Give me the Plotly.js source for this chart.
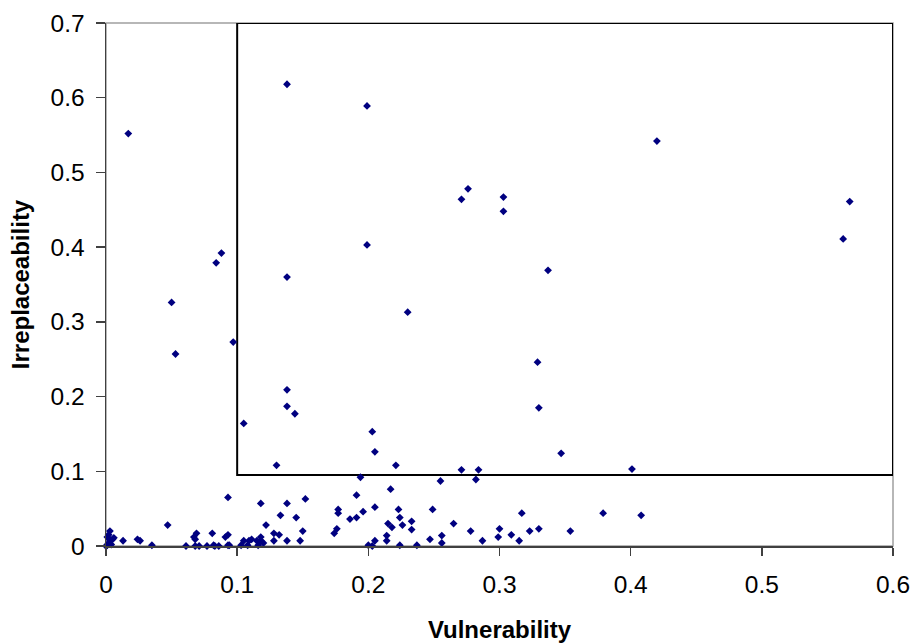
<!DOCTYPE html>
<html>
<head>
<meta charset="utf-8">
<script src="https://cdn.plot.ly/plotly-3.0.1.min.js"></script>
<style>html,body{margin:0;padding:0;background:#fff;}#chart{width:912px;height:643px;}</style>
</head>
<body>
<div id="chart"></div>
<script>
// Vulnerability (x) values
var vulnerability = [
0.017,0.138,0.199,0.088,0.084,0.199,0.138,0.050,0.097,0.053,
0.138,0.138,0.144,0.105,0.203,0.420,0.276,0.271,0.303,0.303,
0.337,0.230,0.329,0.330,0.347,0.567,0.562,0.401,0.379,0.408,
0.317,0.330,0.323,0.354,0.309,0.315,0.205,0.221,0.271,0.284,
0.194,0.282,0.255,0.152,0.191,0.217,0.177,0.177,0.196,0.205,
0.186,0.191,0.223,0.224,0.249,0.233,0.233,0.226,0.215,0.218,
0.214,0.214,0.205,0.200,0.203,0.224,0.237,0.247,0.256,0.256,
0.265,0.278,0.287,0.299,0.300,0.148,0.150,0.174,0.176,0.130,
0.093,0.118,0.138,0.133,0.145,0.047,0.003,0.122,0.069,0.081,
0.128,0.132,0.067,0.068,0.091,0.093,0.118,0.118,0.111,0.109,
0.105,0.115,0.116,0.103,0.108,0.120,0.093,0.094,0.128,0.138,
0.013,0.024,0.026,0.035,0.061,0.068,0.071,0.077,0.082,0.083,
0.086,0.005,0.001,0.002,0.000,0.003,0.001,0.004,0.006,0.002
];
// Irreplaceability (y) values
var irreplaceability = [
0.552,0.618,0.589,0.392,0.379,0.403,0.360,0.326,0.273,0.257,
0.209,0.187,0.177,0.164,0.153,0.542,0.478,0.464,0.467,0.448,
0.369,0.313,0.246,0.185,0.124,0.461,0.411,0.103,0.044,0.041,
0.044,0.023,0.020,0.020,0.015,0.007,0.126,0.108,0.102,0.102,
0.092,0.089,0.087,0.063,0.068,0.076,0.049,0.044,0.046,0.052,
0.036,0.038,0.049,0.038,0.049,0.033,0.022,0.028,0.030,0.025,
0.014,0.007,0.007,0.001,0.000,0.001,0.001,0.009,0.014,0.004,
0.030,0.020,0.007,0.012,0.023,0.007,0.020,0.017,0.023,0.108,
0.065,0.057,0.057,0.041,0.038,0.028,0.020,0.028,0.017,0.017,
0.017,0.015,0.012,0.009,0.012,0.015,0.012,0.007,0.009,0.007,
0.007,0.007,0.001,0.001,0.001,0.004,0.001,0.001,0.007,0.007,
0.007,0.009,0.007,0.001,0.000,0.000,0.000,0.000,0.001,0.000,
0.000,0.009,0.001,0.004,0.000,0.008,0.012,0.002,0.011,0.015
];
var xTickVals = [0,0.1,0.2,0.3,0.4,0.5,0.6];
var xTickText = ["0","0.1","0.2","0.3","0.4","0.5","0.6"];
var yTickVals = [0,0.1,0.2,0.3,0.4,0.5,0.6,0.7];
var yTickText = ["0","0.1","0.2","0.3","0.4","0.5","0.6","0.7"];
var boxX = [0.1, 0.6];
var boxY = [0.095, 0.7];

var trace = {
  x: vulnerability, y: irreplaceability,
  type: 'scatter', mode: 'markers', cliponaxis: false,
  marker: {symbol: 'diamond', size: 6, color: '#000080', line: {width: 0}},
  hoverinfo: 'x+y'
};

var font = {family: '"Liberation Sans", Arial, sans-serif', color: '#000'};
var layout = {
  width: 912, height: 643,
  margin: {l: 105.5, r: 18.7, t: 22.9, b: 97},
  paper_bgcolor: '#fff', plot_bgcolor: '#fff',
  showlegend: false,
  font: font,
  xaxis: {
    range: [0, 0.6], tickvals: xTickVals, ticktext: xTickText,
    showgrid: false, zeroline: false,
    showline: true, linecolor: '#404040', linewidth: 1.5,
    ticks: 'outside', ticklen: 8, tickwidth: 1.5, tickcolor: '#404040',
    ticklabelstandoff: 8,
    tickfont: {family: font.family, size: 24.5, color: '#000'},
    title: {text: '<b>Vulnerability</b>', font: {family: font.family, size: 24, color: '#000'}, standoff: 26}
  },
  yaxis: {
    range: [0, 0.7], tickvals: yTickVals, ticktext: yTickText,
    showgrid: false, zeroline: false,
    showline: true, linecolor: '#404040', linewidth: 1.5,
    ticks: 'outside', ticklen: 9, tickwidth: 1.5, tickcolor: '#404040',
    ticklabelstandoff: 6,
    tickfont: {family: font.family, size: 24.5, color: '#000'},
    title: {text: '<b>Irreplaceability</b>', font: {family: font.family, size: 24, color: '#000'}, standoff: 14}
  },
  shapes: [
    {type: 'rect', xref: 'paper', yref: 'paper', x0: 0, x1: 1, y0: 0, y1: 1,
     line: {color: '#a0a0a0', width: 1.5}, layer: 'below'},
    {type: 'rect', xref: 'x', yref: 'y', x0: boxX[0], x1: boxX[1], y0: boxY[0], y1: boxY[1],
     line: {color: '#000', width: 2}, layer: 'below'}
  ]
};
Plotly.newPlot('chart', [trace], layout, {displayModeBar: false, staticPlot: true});
</script>
</body>
</html>
